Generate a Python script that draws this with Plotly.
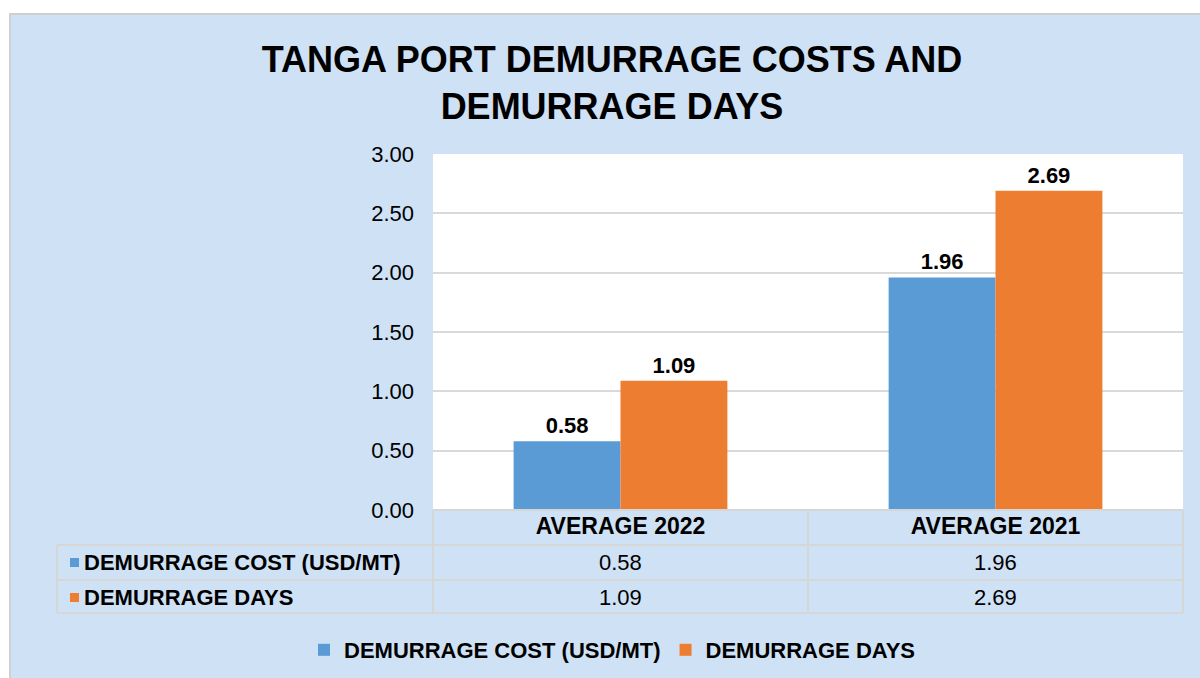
import plotly.graph_objects as go

categories = ["AVERAGE 2022", "AVERAGE 2021"]
series_names = ["DEMURRAGE COST (USD/MT)", "DEMURRAGE DAYS"]
cost_values = [0.58, 1.96]
days_values = [1.09, 2.69]
y_ticks = [0, 0.5, 1.0, 1.5, 2.0, 2.5, 3.0]

colors = ["#5b9bd5", "#ed7d31"]
FONT = "Arial, Liberation Sans, sans-serif"
BG = "#cfe1f4"
GRID = "#d9d9d9"

W, H = 1200, 678
L, R, T, B = 433, 17, 154, 168
PW = W - L - R
PH = H - T - B


def px(xp):
    return (xp - L) / PW


def py(yp):
    return (H - B - yp) / PH


fig = go.Figure()
for name, vals, col in zip(series_names, [cost_values, days_values], colors):
    fig.add_trace(go.Bar(
        x=categories, y=vals, name=name,
        marker=dict(color=col, line=dict(width=0)),
        text=[f"{v:.2f}" for v in vals], textposition="outside",
        texttemplate="<b>%{text}</b>",
        textfont=dict(family=FONT, size=22, color="#000000"),
        cliponaxis=False,
    ))

shapes = []
# chart area background with border
shapes.append(dict(type="rect", xref="paper", yref="paper",
                   x0=px(10), x1=px(1210), y0=py(690), y1=py(14),
                   fillcolor=BG, line=dict(color="#d0d0d0", width=2), layer="below"))
# plot area white background
shapes.append(dict(type="rect", xref="paper", yref="paper",
                   x0=0, x1=1, y0=0, y1=1,
                   fillcolor="white", line=dict(width=0), layer="below"))

# data table lines
rows_y = [510, 545, 580, 613]
col_x = [57, 433, 808, 1183]
tl = dict(color="#d6d6d6", width=2)
for i, yy in enumerate(rows_y):
    x0 = col_x[0] if i >= 1 else col_x[1]
    shapes.append(dict(type="line", xref="paper", yref="paper",
                       x0=px(x0), x1=px(col_x[-1]), y0=py(yy), y1=py(yy), line=tl))
for j, xx in enumerate(col_x):
    y0 = rows_y[1] if j == 0 else rows_y[0]
    shapes.append(dict(type="line", xref="paper", yref="paper",
                       x0=px(xx), x1=px(xx), y0=py(y0), y1=py(rows_y[-1]), line=tl))

annotations = []
row_centers = [562, 597]
for r, (name, vals, col) in enumerate(zip(series_names, [cost_values, days_values], colors)):
    yc = row_centers[r]
    shapes.append(dict(type="rect", xref="paper", yref="paper",
                       x0=px(70), x1=px(79), y0=py(yc + 5), y1=py(yc - 4),
                       fillcolor=col, line=dict(width=0)))
    annotations.append(dict(text=f"<b>{name}</b>", xref="paper", yref="paper",
                            x=px(82), y=py(yc), xanchor="left", yanchor="middle",
                            showarrow=False, font=dict(family=FONT, size=22, color="#000")))
    for c, v in enumerate(vals):
        xc = (col_x[c + 1] + col_x[c + 2]) / 2
        annotations.append(dict(text=f"{v:.2f}", xref="paper", yref="paper",
                                x=px(xc), y=py(yc), xanchor="center", yanchor="middle",
                                showarrow=False, font=dict(family=FONT, size=22, color="#000")))

fig.update_layout(
    width=W, height=H,
    margin=dict(l=L, r=R, t=T, b=B, autoexpand=False),
    paper_bgcolor="white", plot_bgcolor="rgba(0,0,0,0)",
    title=dict(text="<b>TANGA PORT DEMURRAGE COSTS AND<br>DEMURRAGE DAYS</b>",
               x=612 / W, xanchor="center", y=1 - 72 / H, yanchor="middle",
               font=dict(family=FONT, size=36, color="#000")),
    barmode="group", bargap=0.43, bargroupgap=0,
    showlegend=True,
    legend=dict(orientation="h", x=px(612), xanchor="center", y=py(650), yanchor="middle",
                font=dict(family=FONT, size=22, color="#000"), bgcolor="rgba(0,0,0,0)",
                itemwidth=30, traceorder="normal"),
    shapes=shapes, annotations=annotations,
    font=dict(family=FONT, color="#000"),
)
fig.update_yaxes(range=[0, 3], tickvals=y_ticks, tickformat=".2f",
                 showgrid=True, gridcolor=GRID, gridwidth=2, zeroline=True, zerolinecolor=GRID,
                 zerolinewidth=2, ticklabelstandoff=18,
                 tickfont=dict(family=FONT, size=22, color="#000"), ticks="", ticklen=0,
                 showline=False, fixedrange=True)
fig.update_xaxes(tickfont=dict(family=FONT, size=23, color="#000"), ticks="",
                 showline=False, showgrid=False, tickprefix="<b>", ticksuffix="</b>")
for tr in fig.data:
    tr.name = f"<b>{tr.name}</b>"

fig.write_html("out.html", config={"displayModeBar": False},
               post_script="document.body.style.margin='0';")
